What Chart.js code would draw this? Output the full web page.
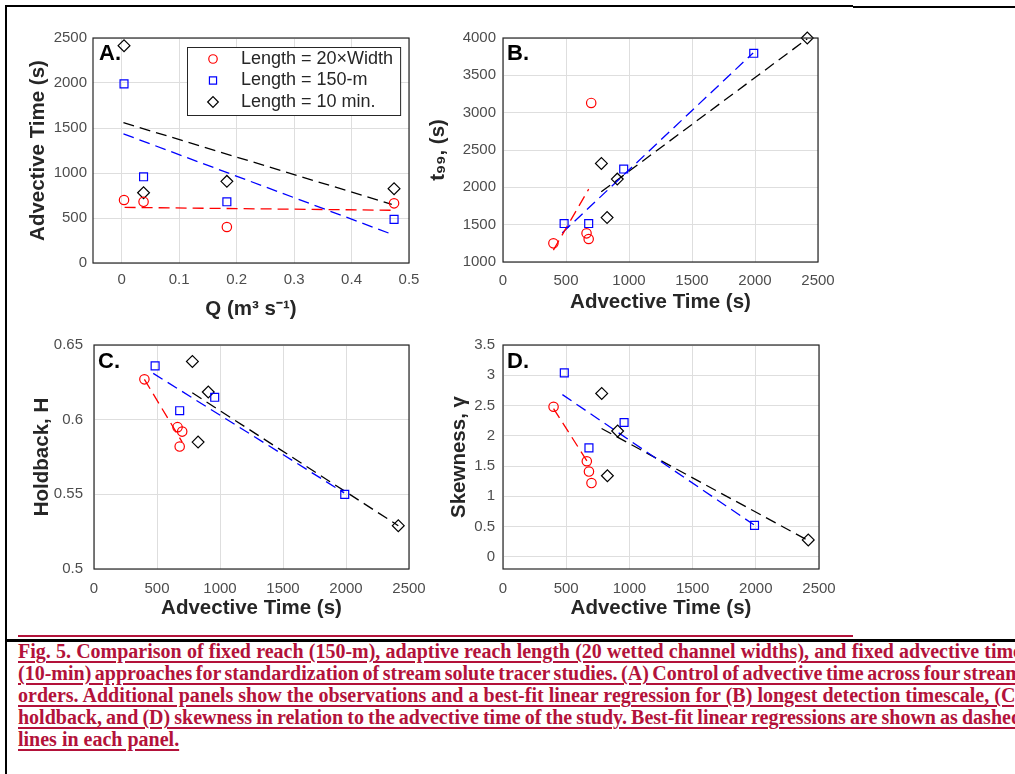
<!DOCTYPE html>
<html>
<head>
<meta charset="utf-8">
<title>Fig. 5</title>
<script src="https://cdn.jsdelivr.net/npm/chart.js@4.4.1/dist/chart.umd.min.js"></script>
<style>
  html, body { margin: 0; padding: 0; background: #fff; }
  body { width: 1015px; height: 774px; overflow: hidden; position: relative; }
  .rule { position: absolute; }
  .panel { position: absolute; }
  #caption {
    position: absolute; left: 18px; top: 640px;
    font: bold 20px/22px "Liberation Serif", "Times New Roman", serif;
    color: #b3123a; white-space: nowrap;
  }
  #caption div { text-decoration: underline; text-decoration-thickness: 2px; text-underline-offset: 3px; }
  #caption .full { width: 1004px; word-spacing: -2px; text-align: justify; text-align-last: justify; }
</style>
</head>
<body>
<div class="rule" style="left:5px;top:5px;width:848px;height:2px;background:#000"></div>
<div class="rule" style="left:853px;top:6px;width:162px;height:2px;background:#000"></div>
<div class="rule" style="left:5px;top:5px;width:2px;height:769px;background:#000"></div>

<div class="panel" style="left:20px;top:20px"><canvas id="panelA" width="420" height="310"></canvas></div>
<div class="panel" style="left:420px;top:20px"><canvas id="panelB" width="440" height="310"></canvas></div>
<div class="panel" style="left:20px;top:330px"><canvas id="panelC" width="420" height="305"></canvas></div>
<div class="panel" style="left:420px;top:330px"><canvas id="panelD" width="440" height="305"></canvas></div>

<div class="rule" style="left:18px;top:635px;width:835px;height:2px;background:#b3123a"></div>
<div class="rule" style="left:5px;top:639px;width:1010px;height:3px;background:#000"></div>

<div id="caption">
  <div class="full">Fig. 5. Comparison of fixed reach (150-m), adaptive reach length (20 wetted channel widths), and fixed advective time</div>
  <div class="full">(10-min) approaches for standardization of stream solute tracer studies. (A) Control of advective time across four stream</div>
  <div class="full">orders. Additional panels show the observations and a best-fit linear regression for (B) longest detection timescale, (C)</div>
  <div class="full">holdback, and (D) skewness in relation to the advective time of the study. Best-fit linear regressions are shown as dashed</div>
  <div>lines in each panel.</div>
</div>

<script>
// series, in the order 20 x width / 150-m / 10 min
const seriesNames = ['Length = 20×Width', 'Length = 150-m', 'Length = 10 min.']

// discharge of the four streams (m3/s)
const discharge = [0.004, 0.038, 0.183, 0.474]

// advective time (s)
const advWidth = [700, 680, 400, 663]
const adv150 = [1990, 958, 680, 485]
const adv10 = [2415, 781, 907, 826]

// longest detection timescale t99 (s)
const t99Width = [3130, 1308, 1250, 1384]
const t99_150 = [3795, 2245, 1515, 1515]
const t99_10 = [4000, 2320, 2110, 1595]

// holdback H
const hbWidth = [0.592, 0.582, 0.627, 0.595]
const hb150 = [0.55, 0.615, 0.606, 0.636]
const hb10 = [0.529, 0.639, 0.6185, 0.585]

// skewness
const skWidth = [1.22, 1.41, 2.48, 1.58]
const sk150 = [0.52, 2.22, 1.8, 3.04]
const sk10 = [0.28, 2.7, 2.08, 1.34]

// dashed best-fit lines, end points
const fitAx = [[0.005, 0.47], [0.003, 0.47], [0.003, 0.47]]
const fitAy = [[618, 586], [1435, 320], [1560, 652]]
const fitBx = [[400, 680], [470, 1985], [780, 2415]]
const fitBy = [[1160, 1975], [1390, 3800], [1940, 3990]]
const fitCx = [[400, 700], [470, 1985], [780, 2415]]
const fitCy = [[0.627, 0.585], [0.631, 0.551], [0.618, 0.529]]
const fitDx = [[400, 690], [470, 1985], [780, 2415]]
const fitDy = [[2.45, 1.5], [2.68, 0.53], [2.12, 0.27]]

// tick labels
const ticksQ = [0, 0.1, 0.2, 0.3, 0.4, 0.5]
const ticksTime = [0, 500, 1000, 1500, 2000, 2500]
const ticksT99 = [1000, 1500, 2000, 2500, 3000, 3500, 4000]
const ticksHold = [0.5, 0.55, 0.6, 0.65]
const ticksSkew = [0, 0.5, 1, 1.5, 2, 2.5, 3, 3.5]

const sans = '"Liberation Sans", Arial, Helvetica, sans-serif'
const tickColor = '#4d4d4d'
const titleColor = '#262626'
const gridColor = '#dedede'

const marks = [
  { pointStyle: 'circle', radius: 4.7, color: '#ff0000' },
  { pointStyle: 'rect', radius: 5.6, color: '#0000ff' },
  { pointStyle: 'rectRot', radius: 5.9, color: '#000000' },
]

// frame round the plot area + panel letter
const panelTag = {
  id: 'panelTag',
  afterDraw(chart, args, opts) {
    const { ctx, chartArea } = chart
    ctx.save()
    ctx.strokeStyle = '#262626'
    ctx.lineWidth = 1.2
    ctx.strokeRect(chartArea.left, chartArea.top, chartArea.width, chartArea.height)
    ctx.font = 'bold 22px ' + sans
    ctx.fillStyle = '#000'
    ctx.textBaseline = 'top'
    ctx.fillText(opts.text, chartArea.left + opts.dx, chartArea.top + opts.dy)
    ctx.restore()
  },
}

// boxed legend inside the plot, MATLAB style
const boxLegend = {
  id: 'boxLegend',
  afterDatasetsDraw(chart, args, opts) {
    if (!opts.show) return
    const { ctx, chartArea } = chart
    const items = chart.data.datasets.filter((d) => d.label)
    ctx.save()
    ctx.font = '18px ' + sans
    const textW = Math.max(...items.map((d) => ctx.measureText(d.label).width))
    const w = 54 + textW + 7
    const h = 68
    const x0 = Math.round(chartArea.right - 9 - w)
    const y0 = Math.round(chartArea.top + 9)
    ctx.fillStyle = '#fff'
    ctx.fillRect(x0, y0, w, h)
    ctx.strokeStyle = '#262626'
    ctx.lineWidth = 1
    ctx.strokeRect(x0 + 0.5, y0 + 0.5, w, h)
    items.forEach((d, i) => {
      const y = y0 + 12 + i * 21.5
      ctx.fillStyle = 'rgba(0,0,0,0)'
      ctx.strokeStyle = d.borderColor
      ctx.lineWidth = 1.2
      Chart.helpers.drawPoint(ctx, { pointStyle: d.pointStyle, radius: d.pointRadius * 0.9, borderWidth: 1.2, rotation: 0 }, x0 + 26, y)
      ctx.fillStyle = titleColor
      ctx.textBaseline = 'middle'
      ctx.fillText(d.label, x0 + 54, y)
    })
    ctx.restore()
  },
}

Chart.register(panelTag, boxLegend)

function makePanel(id, p) {
  const datasets = []
  marks.forEach((m, i) => {
    datasets.push({
      label: seriesNames[i],
      data: p.xs[i].map((x, k) => ({ x, y: p.ys[i][k] })),
      pointStyle: m.pointStyle,
      pointRadius: m.radius,
      pointBorderWidth: 1.2,
      borderColor: m.color,
      backgroundColor: 'rgba(0,0,0,0)',
      showLine: false,
      clip: false,
    })
  })
  marks.forEach((m, i) => {
    datasets.push({
      data: p.fitX[i].map((x, k) => ({ x, y: p.fitY[i][k] })),
      showLine: true,
      borderColor: m.color,
      borderWidth: 1.3,
      borderDash: [11, 6],
      pointRadius: 0,
      fill: false,
    })
  })

  const g = p.geo
  const tickFont = { family: sans, size: 15 }
  const titleFont = { family: sans, size: 20.5, weight: 'bold' }
  return new Chart(document.getElementById(id), {
    type: 'scatter',
    data: { datasets },
    options: {
      responsive: false,
      animation: false,
      events: [],
      layout: { padding: { left: 0, top: g.top, right: g.right, bottom: 0 } },
      plugins: {
        legend: { display: false },
        tooltip: { enabled: false },
        panelTag: { text: p.tag, dx: g.tagDx, dy: g.tagDy },
        boxLegend: { show: !!p.legend },
      },
      scales: {
        x: {
          type: 'linear',
          min: p.xMin,
          max: p.xMax,
          afterBuildTicks: (s) => { s.ticks = p.xTicks.map((v) => ({ value: v })) },
          afterFit: (s) => {
            s.height = g.xH
            s.paddingLeft = 0
            s.paddingRight = 0
          },
          grid: { color: gridColor, drawTicks: false },
          border: { display: false },
          ticks: {
            padding: g.xPad, color: tickColor, font: tickFont,
            maxRotation: 0, autoSkip: false, callback: (v) => String(v),
          },
          title: {
            display: true, text: p.xTitle, color: titleColor, font: titleFont,
            padding: { top: 0, bottom: g.xTitlePad },
          },
        },
        y: {
          type: 'linear',
          min: p.yMin,
          max: p.yMax,
          afterBuildTicks: (s) => { s.ticks = p.yTicks.map((v) => ({ value: v })) },
          afterFit: (s) => {
            s.width = g.yW
            s.paddingTop = 0
            s.paddingBottom = 0
          },
          grid: { color: gridColor, drawTicks: false },
          border: { display: false },
          ticks: {
            padding: g.yPad, color: tickColor, font: tickFont,
            autoSkip: false, callback: (v) => String(v),
          },
          title: {
            display: true, text: p.yTitle, color: titleColor, font: titleFont,
            padding: { top: g.yTitlePad, bottom: 0 },
          },
        },
      },
    },
  })
}

makePanel('panelA', {
  tag: 'A.', legend: true,
  xs: [discharge, discharge, discharge], ys: [advWidth, adv150, adv10],
  fitX: fitAx, fitY: fitAy,
  xMin: -0.05, xMax: 0.5, yMin: 0, yMax: 2500, xTicks: ticksQ, yTicks: ticksTime,
  xTitle: 'Q (m³ s⁻¹)', yTitle: 'Advective Time (s)',
  geo: { top: 18, right: 31, yW: 73, xH: 67, yPad: 6, xPad: 8, yTitlePad: 6, xTitlePad: 8, tagDx: 6, tagDy: 5 },
})

makePanel('panelB', {
  tag: 'B.',
  xs: [advWidth, adv150, adv10], ys: [t99Width, t99_150, t99_10],
  fitX: fitBx, fitY: fitBy,
  xMin: 0, xMax: 2500, yMin: 1000, yMax: 4000, xTicks: ticksTime, yTicks: ticksT99,
  xTitle: 'Advective Time (s)', yTitle: 't₉₉, (s)',
  geo: { top: 18, right: 42, yW: 83, xH: 68, yPad: 7, xPad: 10, yTitlePad: 6, xTitlePad: 15, tagDx: 4, tagDy: 5 },
})

makePanel('panelC', {
  tag: 'C.',
  xs: [advWidth, adv150, adv10], ys: [hbWidth, hb150, hb10],
  fitX: fitCx, fitY: fitCy,
  xMin: 0, xMax: 2500, yMin: 0.5, yMax: 0.65, xTicks: ticksTime, yTicks: ticksHold,
  xTitle: 'Advective Time (s)', yTitle: 'Holdback, H',
  geo: { top: 15, right: 31, yW: 74, xH: 66, yPad: 11, xPad: 11, yTitlePad: 10, xTitlePad: 14, tagDx: 4, tagDy: 6 },
})

makePanel('panelD', {
  tag: 'D.',
  xs: [advWidth, adv150, adv10], ys: [skWidth, sk150, sk10],
  fitX: fitDx, fitY: fitDy,
  xMin: 0, xMax: 2500, yMin: -0.2, yMax: 3.5, xTicks: ticksTime, yTicks: ticksSkew,
  xTitle: 'Advective Time (s)', yTitle: 'Skewness, γ',
  geo: { top: 15, right: 41, yW: 83, xH: 66, yPad: 8, xPad: 11, yTitlePad: 27, xTitlePad: 14, tagDx: 4, tagDy: 6 },
})
</script>
</body>
</html>
